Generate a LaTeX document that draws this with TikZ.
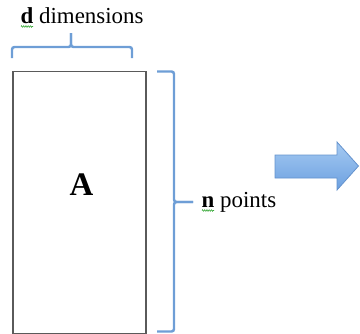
\documentclass[tikz,border=0pt]{standalone}
\usepackage{fontspec}
\setmainfont{Liberation Serif}
\usetikzlibrary{decorations.pathmorphing}
\definecolor{braceblue}{RGB}{110,158,214}
\definecolor{arrowtop}{RGB}{165,202,242}
\definecolor{arrowbot}{RGB}{108,160,224}
\definecolor{arrowline}{RGB}{100,146,205}
\definecolor{boxline}{RGB}{90,90,90}
\definecolor{spell}{RGB}{60,170,60}
\tikzset{
  bracestyle/.style={draw=braceblue, line width=2.5pt, rounded corners=2.5bp},
  lbl/.style={anchor=base west, inner sep=0pt, font=\fontsize{23}{26}\selectfont},
  squiggle/.style={draw=spell, line width=0.6pt, decorate, decoration={zigzag, segment length=2.2bp, amplitude=0.8bp}},
}
\begin{document}
\begin{tikzpicture}[x=1bp, y=-1bp]
\useasboundingbox (0,0) rectangle (360,334);
% matrix box
\node[draw=boxline, line width=1.8pt, minimum width=133bp, minimum height=262bp, inner sep=0pt, anchor=north west] (box) at (12,70.5) {};
\node[anchor=base, inner sep=0pt, font=\fontsize{33}{36}\selectfont\bfseries] (A) at (81.5,195) {A};
% top brace
\coordinate (tl) at (12,58);
\coordinate (tr) at (132,58);
\coordinate (tt) at (71,33);
\draw[bracestyle] (tl) -- (12,47) -- (71,47) -- (tt);
\draw[bracestyle] (tt) -- (71,47) -- (132,47) -- (tr);
% right brace
\coordinate (rt) at (157,71.5);
\coordinate (rb) at (157,331.5);
\coordinate (rm) at (193,202);
\draw[bracestyle] (rt) -- (174,71.5) -- (174,202) -- (rm);
\draw[bracestyle] (rm) -- (174,202) -- (174,331.5) -- (rb);
% labels
\node[lbl] (dl) at (20.5,23) {\textbf{d} dimensions};
\node[lbl] (nl) at (201.5,207) {\textbf{n} points};
\draw[squiggle] (21,26.5) -- (33,26.5);
\draw[squiggle] (202,210.5) -- (214,210.5);
% arrow
\path[draw=arrowline, line width=0.8pt, top color=arrowtop, bottom color=arrowbot, line join=miter]
  (275,155) -- (337,155) -- (337,142) -- (358.5,166) -- (337,190) -- (337,178) -- (275,178) -- cycle;
\end{tikzpicture}
\end{document}
